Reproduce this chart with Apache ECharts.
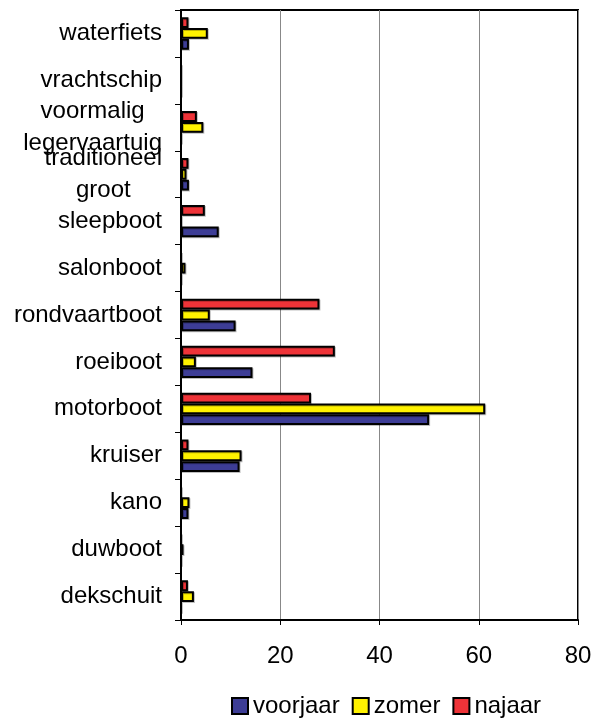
<!DOCTYPE html>
<html>
<head>
<meta charset="utf-8">
<script src="https://cdn.jsdelivr.net/npm/echarts@6/dist/echarts.min.js"></script>
<style>
  html, body { margin: 0; padding: 0; background: #fff; }
  #chart { width: 611px; height: 722px; }
</style>
</head>
<body>
<div id="chart"></div>
<script>
// Boat types, listed bottom to top along the category axis
const categories = ['dekschuit', 'duwboot', 'kano', 'kruiser', 'motorboot', 'roeiboot',
  'rondvaartboot', 'salonboot', 'sleepboot', 'traditioneel groot',
  'voormalig legervaartuig', 'vrachtschip', 'waterfiets'];

// Values per season
const voorjaar = [0, 0, 1.5, 11.8, 50.0, 14.4, 11.0, 0, 7.6, 1.6, 0, 0, 1.6];
const zomer    = [2.6, 0.5, 1.7, 12.2, 61.3, 3.0, 5.8, 0.9, 0, 1.1, 4.5, 0, 5.4];
const najaar   = [1.4, 0, 0, 1.5, 26.2, 31.0, 27.9, 0, 4.8, 1.5, 3.2, 0, 1.5];

const seriesNames = ['voorjaar', 'zomer', 'najaar'];
const seriesColors = ['#3d3d96', '#fff200', '#ee3338'];
const xTicks = { min: 0, max: 80, interval: 20 };

const FONT = '"Liberation Sans", Arial, sans-serif';
const FS = 24;

function makeSeries(name, data, color) {
  return {
    name: name,
    type: 'bar',
    data: data,
    barGap: '0%',
    barCategoryGap: '31%',
    itemStyle: {
      color: color,
      borderColor: '#000',
      borderWidth: 2,
      shadowColor: 'rgba(0,0,0,0.25)',
      shadowOffsetX: 1,
      shadowOffsetY: 1
    }
  };
}

const chart = echarts.init(document.getElementById('chart'), null, { renderer: 'canvas' });

chart.setOption({
  animation: false,
  backgroundColor: '#fff',
  grid: {
    left: 181, right: 33, top: 10, bottom: 102,
    show: true, borderColor: '#000', borderWidth: 2, backgroundColor: 'transparent'
  },
  legend: {
    left: 226, top: 689,
    itemWidth: 16, itemHeight: 16, itemGap: 12,
    icon: 'rect',
    textStyle: { fontFamily: FONT, fontSize: FS, color: '#000' },
    data: seriesNames
  },
  xAxis: {
    type: 'value',
    min: xTicks.min, max: xTicks.max, interval: xTicks.interval,
    axisLine: { show: true, lineStyle: { color: '#000', width: 2 } },
    axisTick: { show: true, length: 5, lineStyle: { color: '#000', width: 1 } },
    axisLabel: { fontFamily: FONT, fontSize: FS, color: '#000', margin: 24 },
    splitLine: { show: true, lineStyle: { color: '#888', width: 1 } }
  },
  yAxis: {
    type: 'category',
    data: categories,
    axisLine: { show: true, lineStyle: { color: '#000', width: 2 } },
    axisTick: { show: true, length: 6, lineStyle: { color: '#000', width: 1 } },
    axisLabel: {
      fontFamily: FONT, fontSize: FS, color: '#000', margin: 19,
      interval: 0, align: 'right', lineHeight: 32,
      formatter: function (v) {
        return v.split(' ').map(function (w) { return '{c|' + w + '}'; }).join('\n');
      },
      rich: {
        c: { fontFamily: FONT, fontSize: FS, color: '#000', align: 'center', lineHeight: 32 }
      }
    }
  },
  // series listed top slot first so najaar sits above voorjaar within each group
  series: [
    makeSeries(seriesNames[2], najaar, seriesColors[2]),
    makeSeries(seriesNames[1], zomer, seriesColors[1]),
    makeSeries(seriesNames[0], voorjaar, seriesColors[0])
  ]
});
</script>
</body>
</html>
